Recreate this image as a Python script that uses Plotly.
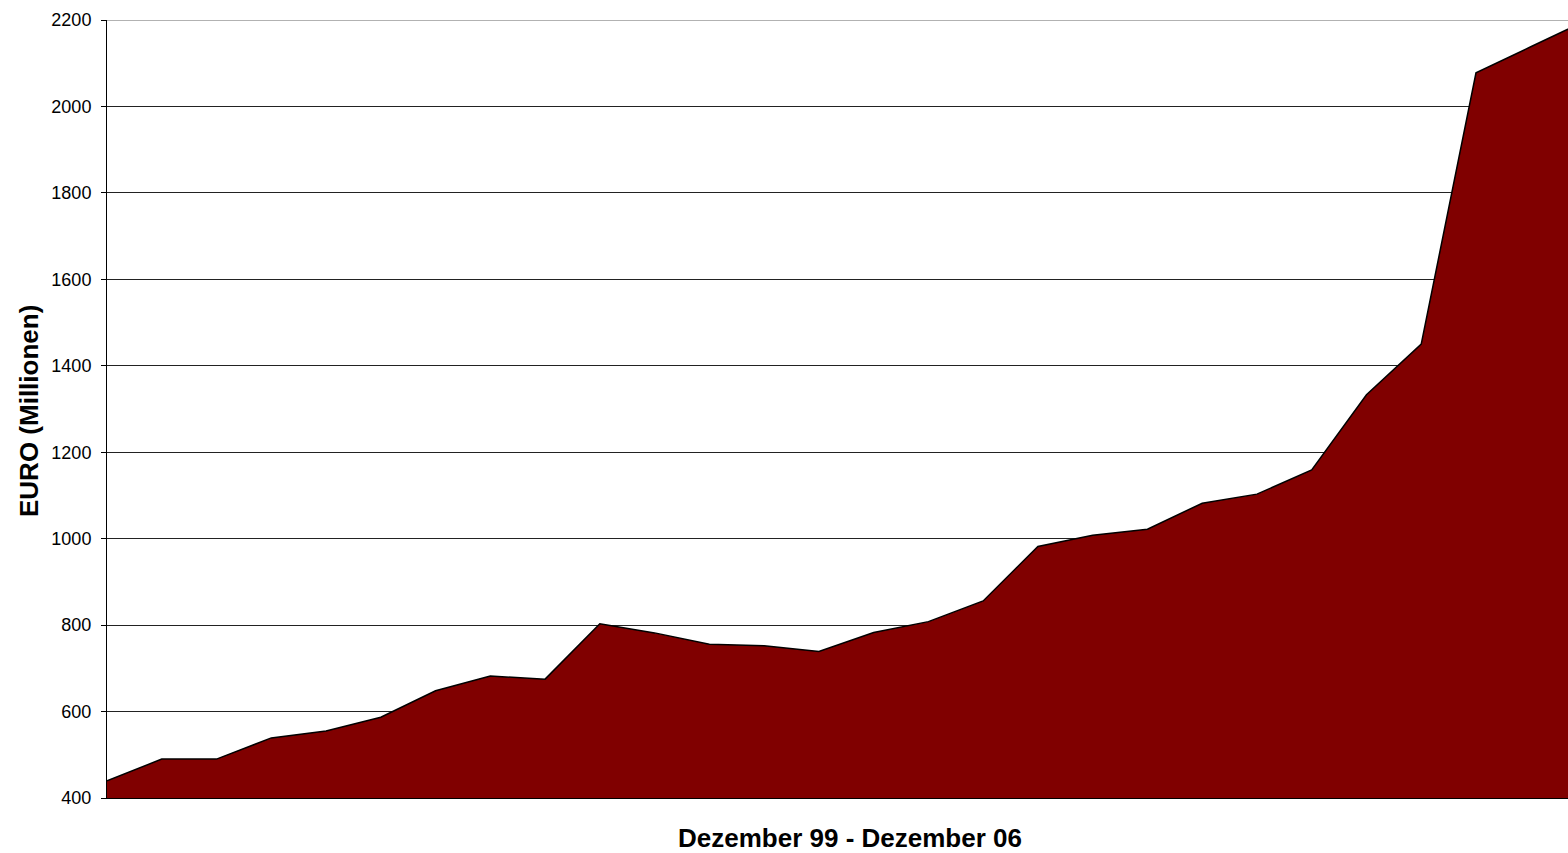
import plotly.graph_objects as go

# Data, one point per period, Dezember 99 - Dezember 06
periods = list(range(28))
euro_millionen = [440, 490, 490, 539, 555, 587, 648, 682, 675, 803,
                  782, 756, 752, 739, 783, 808, 856, 982, 1008, 1022,
                  1082, 1103, 1159, 1333, 1450, 2078, 2138, 2198]

y_ticks = [400, 600, 800, 1000, 1200, 1400, 1600, 1800, 2000, 2200]
x_title = "Dezember 99 - Dezember 06"
y_title = "EURO (Millionen)"

fig = go.Figure()
fig.add_trace(go.Scatter(
    x=periods, y=euro_millionen,
    mode="lines",
    line=dict(color="black", width=1.5),
    fill="tozeroy",
    fillcolor="#800000",
    hoverinfo="x+y",
    showlegend=False,
))

W, H = 1568, 853
ml, mr, mt, mb = 107, 0, 20, 55
fig.update_layout(
    width=W, height=H,
    margin=dict(l=ml, r=mr, t=mt, b=mb),
    paper_bgcolor="white",
    plot_bgcolor="white",
    font=dict(family="Liberation Sans, Arial, sans-serif", color="black"),
)
fig.update_xaxes(
    range=[0, 26.68],
    showgrid=False, zeroline=False,
    showticklabels=False, ticks="",
    showline=True, linecolor="black", linewidth=1,
)
fig.update_yaxes(
    range=[400, 2200],
    tickvals=y_ticks,
    ticktext=[str(v) for v in y_ticks],
    tickfont=dict(size=18, color="black"),
    ticks="outside", ticklen=5, tickcolor="black", tickwidth=1,
    ticklabelstandoff=6,
    showgrid=True, gridcolor="#222222", gridwidth=1,
    zeroline=False,
    showline=True, linecolor="black", linewidth=1,
)
# top gridline is lighter in the reference
fig.add_shape(type="line", xref="paper", yref="y",
              x0=0, x1=1, y0=y_ticks[-1], y1=y_ticks[-1],
              line=dict(color="#999999", width=1.5), layer="above")

pw = W - ml - mr
ph = H - mt - mb
fig.add_annotation(
    text=f"<b>{x_title}</b>", showarrow=False,
    xref="paper", yref="paper",
    x=(850 - ml) / pw, y=-(838 - (mt + ph)) / ph,
    xanchor="center", yanchor="middle",
    font=dict(size=26, color="black"),
)
fig.add_annotation(
    text=f"<b>{y_title}</b>", showarrow=False, textangle=-90,
    xref="paper", yref="paper",
    x=(29 - ml) / pw, y=((mt + ph) - 411) / ph,
    xanchor="center", yanchor="middle",
    font=dict(size=26, color="black"),
)

fig.write_html(
    "out.html",
    config={"displayModeBar": False},
    post_script="document.body.style.margin='0';document.body.style.overflow='hidden';",
)
